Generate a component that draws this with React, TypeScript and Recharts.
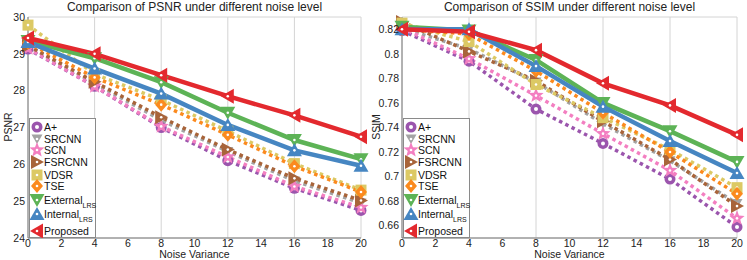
import React from 'react';
import { LineChart, Line, XAxis, YAxis, CartesianGrid } from 'recharts';

const noiseLevels = [0, 4, 8, 12, 16, 20];
const xTicks = [0, 2, 4, 6, 8, 10, 12, 14, 16, 18, 20];

const psnrTicks = [24, 25, 26, 27, 28, 29, 30];
const ssimTicks = [0.66, 0.68, 0.7, 0.72, 0.74, 0.76, 0.78, 0.8, 0.82];

const psnrAplus = [29.13, 28.12, 27.0, 26.1, 25.35, 24.75];
const psnrSRCNN = [29.2, 28.2, 27.2, 26.35, 25.55, 24.95];
const psnrSCN = [29.15, 28.12, 27.03, 26.2, 25.4, 24.83];
const psnrFSRCNN = [29.22, 28.24, 27.28, 26.4, 25.62, 25.02];
const psnrVDSR = [29.78, 28.45, 27.75, 26.9, 26.02, 25.3];
const psnrTSE = [29.3, 28.36, 27.62, 26.8, 25.95, 25.25];
const psnrExternal = [29.35, 28.88, 28.23, 27.4, 26.66, 26.14];
const psnrInternal = [29.32, 28.6, 27.92, 27.07, 26.38, 25.96];
const psnrProposed = [29.43, 29.0, 28.42, 27.85, 27.33, 26.75];

const ssimAplus = [0.819, 0.794, 0.755, 0.727, 0.698, 0.659];
const ssimSRCNN = [0.821, 0.804, 0.777, 0.743, 0.713, 0.678];
const ssimSCN = [0.821, 0.796, 0.766, 0.735, 0.705, 0.666];
const ssimFSRCNN = [0.826, 0.802, 0.778, 0.745, 0.714, 0.676];
const ssimVDSR = [0.825, 0.81, 0.775, 0.748, 0.722, 0.691];
const ssimTSE = [0.82, 0.816, 0.786, 0.752, 0.72, 0.686];
const ssimExternal = [0.822, 0.819, 0.795, 0.76, 0.737, 0.712];
const ssimInternal = [0.82, 0.82, 0.79, 0.757, 0.729, 0.703];
const ssimProposed = [0.82, 0.818, 0.803, 0.776, 0.758, 0.734];

const methodKeys = ['aplus', 'srcnn', 'scn', 'fsrcnn', 'vdsr', 'tse', 'external', 'internal', 'proposed'];
const methodNames = ['A+', 'SRCNN', 'SCN', 'FSRCNN', 'VDSR', 'TSE', 'External', 'Internal', 'Proposed'];
const methodSubs = ['', '', '', '', '', '', 'LRS', 'LRS', ''];

const psnrSeries = [psnrAplus, psnrSRCNN, psnrSCN, psnrFSRCNN, psnrVDSR, psnrTSE, psnrExternal, psnrInternal, psnrProposed];
const ssimSeries = [ssimAplus, ssimSRCNN, ssimSCN, ssimFSRCNN, ssimVDSR, ssimTSE, ssimExternal, ssimInternal, ssimProposed];

const styles: Record<string, { color: string; dashed: boolean; shape: string }> = {
  aplus: { color: '#9b55ad', dashed: true, shape: 'circle' },
  srcnn: { color: '#a3a3a3', dashed: true, shape: 'smallDown' },
  scn: { color: '#f37fc1', dashed: true, shape: 'star' },
  fsrcnn: { color: '#a8643a', dashed: true, shape: 'right' },
  vdsr: { color: '#dcc964', dashed: true, shape: 'square' },
  tse: { color: '#fb8a1e', dashed: true, shape: 'diamond' },
  external: { color: '#5db356', dashed: false, shape: 'down' },
  internal: { color: '#4686c2', dashed: false, shape: 'up' },
  proposed: { color: '#e3292e', dashed: false, shape: 'left' },
};

function buildRows(series: number[][]) {
  return noiseLevels.map((x, i) => {
    const row: Record<string, number> = { x };
    methodKeys.forEach((k, j) => {
      row[k] = series[j][i];
    });
    return row;
  });
}

const psnrRows = buildRows(psnrSeries);
const ssimRows = buildRows(ssimSeries);

function starPoints(cx: number, cy: number, ro: number, ri: number) {
  const pts: string[] = [];
  for (let i = 0; i < 10; i++) {
    const r = i % 2 === 0 ? ro : ri;
    const a = -Math.PI / 2 + (i * Math.PI) / 5;
    pts.push(`${cx + r * Math.cos(a)},${cy + r * Math.sin(a)}`);
  }
  return pts.join(' ');
}

function Marker({ shape, color, cx, cy }: { shape: string; color: string; cx: number; cy: number }) {
  const dot = <circle cx={cx} cy={cy} r={1.3} fill="#fff" />;
  switch (shape) {
    case 'circle':
      return (
        <g>
          <circle cx={cx} cy={cy} r={5.5} fill={color} />
          <circle cx={cx} cy={cy} r={2} fill="#fff" />
        </g>
      );
    case 'smallDown':
      return (
        <g>
          <polygon points={`${cx - 5.5},${cy - 4.5} ${cx + 5.5},${cy - 4.5} ${cx},${cy + 5}`} fill={color} />
          {dot}
        </g>
      );
    case 'star':
      return (
        <g>
          <polygon points={starPoints(cx, cy, 8, 3.4)} fill={color} />
          {dot}
        </g>
      );
    case 'right':
      return (
        <g>
          <polygon points={`${cx - 6},${cy - 7} ${cx - 6},${cy + 7} ${cx + 7},${cy}`} fill={color} />
          {dot}
        </g>
      );
    case 'square':
      return (
        <g>
          <rect x={cx - 5.5} y={cy - 5.5} width={11} height={11} fill={color} />
          {dot}
        </g>
      );
    case 'diamond':
      return (
        <g>
          <polygon points={`${cx},${cy - 7} ${cx + 6},${cy} ${cx},${cy + 7} ${cx - 6},${cy}`} fill={color} />
          {dot}
        </g>
      );
    case 'down':
      return (
        <g>
          <polygon points={`${cx - 7.5},${cy - 6} ${cx + 7.5},${cy - 6} ${cx},${cy + 7}`} fill={color} />
          {dot}
        </g>
      );
    case 'up':
      return (
        <g>
          <polygon points={`${cx - 7.5},${cy + 6} ${cx + 7.5},${cy + 6} ${cx},${cy - 7}`} fill={color} />
          {dot}
        </g>
      );
    case 'left':
    default:
      return (
        <g>
          <polygon points={`${cx + 6},${cy - 7.5} ${cx + 6},${cy + 7.5} ${cx - 7},${cy}`} fill={color} />
          {dot}
        </g>
      );
  }
}

const FONT = '"Liberation Sans", Arial, Helvetica, sans-serif';
const tickStyle = { fontSize: 10.5, fill: '#222', fontFamily: FONT };
const boxColor = '#7a7a7a';

function fmt(v: number) {
  return String(parseFloat(v.toFixed(2)));
}

function Panel({
  rows,
  domain,
  yTicks,
  left,
  width,
  rightMargin,
  title,
  yLabel,
  labelX,
}: {
  rows: Record<string, number>[];
  domain: [number, number];
  yTicks: number[];
  left: number;
  width: number;
  rightMargin: number;
  title: string;
  yLabel: string;
  labelX: number;
}) {
  const plotLeft = 28;
  const plotRight = width - rightMargin;
  const center = (plotLeft + plotRight) / 2;
  return (
    <div style={{ position: 'absolute', left, top: 0, width, height: 260 }}>
      <LineChart width={width} height={260} data={rows} margin={{ top: 17, right: rightMargin, bottom: 0, left: 0 }}>
        <CartesianGrid stroke="#d4d4d4" strokeWidth={1} />
        <XAxis
          xAxisId="b"
          dataKey="x"
          type="number"
          domain={[0, 20]}
          ticks={xTicks}
          interval={0}
          height={22}
          tick={tickStyle}
          tickLine={false}
          tickSize={1}
          tickMargin={1}
          axisLine={{ stroke: boxColor }}
        />
        <XAxis
          xAxisId="t"
          orientation="top"
          type="number"
          domain={[0, 20]}
          ticks={xTicks}
          height={0}
          tick={false}
          tickLine={false}
          axisLine={{ stroke: boxColor }}
        />
        <YAxis
          yAxisId="l"
          type="number"
          domain={domain}
          ticks={yTicks}
          interval={0}
          width={28}
          tick={tickStyle}
          tickFormatter={fmt}
          tickLine={false}
          tickSize={2}
          tickMargin={1}
          axisLine={{ stroke: boxColor }}
        />
        <YAxis
          yAxisId="r"
          orientation="right"
          type="number"
          domain={domain}
          ticks={yTicks}
          width={0}
          tick={false}
          tickLine={false}
          axisLine={{ stroke: boxColor }}
        />
        {methodKeys.map((k) => {
          const s = styles[k];
          return (
            <Line
              key={k}
              xAxisId="b"
              yAxisId="l"
              dataKey={k}
              type="linear"
              stroke={s.color}
              strokeWidth={s.dashed ? 3.5 : 4.5}
              strokeDasharray={s.dashed ? '3.5 3.5' : undefined}
              isAnimationActive={false}
              dot={(p: any) => (
                <Marker key={`${k}-${p.index}`} shape={s.shape} color={s.color} cx={p.cx} cy={p.cy} />
              )}
              activeDot={false}
            />
          );
        })}
      </LineChart>
      <div
        style={{
          position: 'absolute',
          left: center - 150,
          width: 300,
          top: 0,
          textAlign: 'center',
          fontFamily: FONT,
          fontSize: 12,
          color: '#222',
          lineHeight: '15px',
          whiteSpace: 'nowrap',
        }}
      >
        {title}
      </div>
      <div
        style={{
          position: 'absolute',
          left: center - 60,
          width: 120,
          top: 249,
          textAlign: 'center',
          fontFamily: FONT,
          fontSize: 10.5,
          color: '#222',
          lineHeight: '11px',
        }}
      >
        Noise Variance
      </div>
      <div
        style={{
          position: 'absolute',
          left: labelX - 30,
          top: 120,
          width: 60,
          height: 14,
          textAlign: 'center',
          fontFamily: FONT,
          fontSize: 10.5,
          color: '#222',
          lineHeight: '14px',
          transform: 'rotate(-90deg)',
        }}
      >
        {yLabel}
      </div>
      <LegendBox />
    </div>
  );
}

const legendRowY = [9, 21, 32, 44, 57, 68, 82, 96, 113];

function LegendBox() {
  return (
    <svg
      style={{ position: 'absolute', left: 29, top: 118 }}
      width={68}
      height={120}
    >
      <rect x={0.5} y={0.5} width={66} height={119} fill="#fff" stroke="#8a8a8a" strokeWidth={1} />
      {methodKeys.map((k, i) => {
        const s = styles[k];
        const y = legendRowY[i];
        return (
          <g key={k}>
            <Marker shape={s.shape} color={s.color} cx={8} cy={y} />
            <text x={15} y={y + 4} fontSize={10.5} fontFamily={FONT} fill="#111">
              {methodNames[i]}
              {methodSubs[i] ? (
                <tspan fontSize={7} dy={4}>
                  {methodSubs[i]}
                </tspan>
              ) : null}
            </text>
          </g>
        );
      })}
    </svg>
  );
}

export default function App() {
  return (
    <div style={{ position: 'absolute', left: 0, top: 0, width: 747, height: 260, background: '#fff', overflow: 'hidden' }}>
      <Panel
        rows={psnrRows}
        domain={[24, 30]}
        yTicks={psnrTicks}
        left={0}
        width={370}
        rightMargin={9}
        title="Comparison of PSNR under different noise level"
        yLabel="PSNR"
        labelX={8}
      />
      <Panel
        rows={ssimRows}
        domain={[0.65, 0.83]}
        yTicks={ssimTicks}
        left={374}
        width={373}
        rightMargin={10}
        title="Comparison of SSIM under different noise level"
        yLabel="SSIM"
        labelX={2}
      />
    </div>
  );
}
